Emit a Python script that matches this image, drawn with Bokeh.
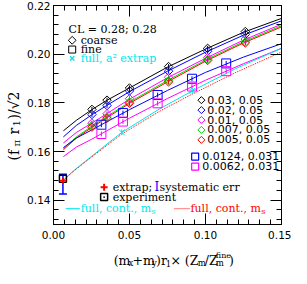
import numpy as np
from bokeh.plotting import figure
from bokeh.layouts import row, column
from bokeh.models import Range1d, FixedTicker, LinearAxis, Label, CustomJSTickFormatter
from bokeh.embed import file_html
from bokeh.resources import INLINE

# ---------------- data ----------------
x_coarse = [0.0253, 0.0352, 0.0500, 0.0757, 0.1014, 0.1262]
y_c003 = [0.1773, 0.1811, 0.1861, 0.1949, 0.2024, 0.2093]
y_c002 = [0.1752, 0.1789, 0.1849, 0.1930, 0.2012, 0.2081]
y_c001 = [0.1717, 0.1755, 0.1817, 0.1905, 0.1986, 0.2062]
y_c0007 = [0.1707, 0.1742, 0.1803, 0.1891, 0.1978, 0.2050]
y_c0005 = [0.1700, 0.1736, 0.1798, 0.1886, 0.1974, 0.2046]
err_coarse = [0.0010, 0.0010, 0.0010, 0.0010, 0.0010, 0.0010]

x_fine = [0.0315, 0.0457, 0.0685, 0.0911, 0.1136]
y_f00124 = [0.1710, 0.1758, 0.1832, 0.1899, 0.1962]
y_f00062 = [0.1672, 0.1723, 0.1798, 0.1867, 0.1930]
err_fine = [0.0010, 0.0010, 0.0010, 0.0010, 0.0010]

x_a2 = [0.0449, 0.0913]
y_a2 = [0.1679, 0.1849]
err_a2 = [0.0012, 0.0012]

x_fit = [0.0065, 0.015, 0.025, 0.035, 0.05, 0.075, 0.10, 0.125, 0.15]
fit_c003 = [0.1685, 0.1728, 0.1771, 0.1810, 0.1861, 0.1947, 0.2021, 0.2090, 0.2147]
fit_c002 = [0.1660, 0.1707, 0.1750, 0.1789, 0.1846, 0.1930, 0.2008, 0.2078, 0.2137]
fit_c001 = [0.1635, 0.1678, 0.1716, 0.1755, 0.1815, 0.1903, 0.1983, 0.2058, 0.2123]
fit_c0007 = [0.1612, 0.1660, 0.1703, 0.1743, 0.1803, 0.1892, 0.1976, 0.2051, 0.2117]
fit_c0005 = [0.1607, 0.1655, 0.1698, 0.1738, 0.1798, 0.1886, 0.1971, 0.2046, 0.2112]
fit_f00124 = [0.1616, 0.1655, 0.1688, 0.1722, 0.1772, 0.1851, 0.1925, 0.1988, 0.2043]
fit_f00062 = [0.1579, 0.1618, 0.1650, 0.1685, 0.1737, 0.1818, 0.1893, 0.1961, 0.2024]

x_cont = [0.0062, 0.013, 0.025, 0.045, 0.07, 0.0913, 0.12, 0.15]
cont_ms_prime = [0.1480, 0.1520, 0.1580, 0.1679, 0.1776, 0.1849, 0.1941, 0.2024]
cont_ms = [0.1480, 0.1518, 0.1577, 0.1672, 0.1766, 0.1836, 0.1925, 0.2009]

x_phys = [0.0062]
y_extrap = [0.1481]
err_extrap = [0.0010]
sys_lo = [0.1425]
sys_hi = [0.1506]
y_expt = [0.1488]

coarse_labels = ["0.03, 0.05", "0.02, 0.05", "0.01, 0.05", "0.007, 0.05", "0.005, 0.05"]
fine_labels = ["0.0124, 0.031", "0.0062, 0.031"]
x_ticks = [0.0, 0.05, 0.10, 0.15]
y_ticks = [0.14, 0.16, 0.18, 0.20, 0.22]

# ---------------- styling ----------------
BLACK, BLUE, MAG, GREEN, RED, CYAN = "#000000", "#0000ff", "#ff00ff", "#00dd00", "#ff0000", "#00e5ee"
SERIF = "DejaVu Serif"
SANS = "DejaVu Sans"

YL_W = 24          # width of the y-label strip
XL_H = 24          # height of the x-label strip
MAIN_W, MAIN_H = 291 - YL_W, 244
BORDER_B = 20

p = figure(width=MAIN_W, height=MAIN_H, output_backend="svg", toolbar_location=None, title=None,
           x_range=Range1d(0, 0.15), y_range=Range1d(0.13, 0.22),
           min_border_left=27, min_border_right=10, min_border_top=5, min_border_bottom=BORDER_B,
           background_fill_color="white", border_fill_color="white")
p.xgrid.visible = False
p.ygrid.visible = False
p.outline_line_color = "black"

x_minor = list(np.arange(0, 0.1501, 0.05 / 7))
y_minor = list(np.arange(0.132, 0.2201, 0.004))

def style_axis(ax, ticks, minor, show):
    ax.ticker = FixedTicker(ticks=ticks, minor_ticks=minor)
    ax.major_tick_in = 11
    ax.major_tick_out = 0
    ax.minor_tick_in = 5
    ax.minor_tick_out = 0
    ax.axis_line_color = "black"
    ax.major_tick_line_color = "black"
    ax.minor_tick_line_color = "black"
    if show:
        ax.major_label_text_font = SANS
        ax.major_label_text_font_size = "10.5px"
        ax.major_label_text_color = "black"
        ax.formatter = CustomJSTickFormatter(code="return tick.toFixed(2);")
    else:
        ax.formatter = CustomJSTickFormatter(code="return '';")
        ax.major_label_standoff = 0

bottom = p.below[0]
left = p.left[0]
style_axis(bottom, x_ticks, x_minor, True)
bottom.major_label_standoff = 6
style_axis(left, y_ticks, y_minor, True)
left.major_label_standoff = 3
top = LinearAxis()
style_axis(top, x_ticks, x_minor, False)
p.add_layout(top, "above")
right = LinearAxis()
style_axis(right, y_ticks, y_minor, False)
p.add_layout(right, "right")

# ---------------- curves ----------------
for ys, c in [(fit_c003, BLACK), (fit_c002, BLUE), (fit_c001, MAG), (fit_c0007, GREEN), (fit_c0005, RED),
              (fit_f00124, BLUE), (fit_f00062, MAG)]:
    p.line(x_fit, ys, line_color=c, line_width=1)
p.line(x_cont, cont_ms_prime, line_color=CYAN, line_width=1)
p.line(x_cont, cont_ms, line_color=RED, line_width=1, line_dash="1 1")

# ---------------- points ----------------
def errbars(xs, ys, es, c):
    lo = [y - e for y, e in zip(ys, es)]
    hi = [y + e for y, e in zip(ys, es)]
    p.segment(xs, lo, xs, hi, line_color=c, line_width=1)

for ys, c in [(y_c003, BLACK), (y_c002, BLUE), (y_c001, MAG), (y_c0007, GREEN), (y_c0005, RED)]:
    errbars(x_coarse, ys, err_coarse, c)
    p.scatter(x_coarse, ys, marker="square", angle=np.pi / 4, size=6, fill_color=None, line_color=c, line_width=1)
for ys, c in [(y_f00124, BLUE), (y_f00062, MAG)]:
    errbars(x_fine, ys, err_fine, c)
    p.scatter(x_fine, ys, marker="square", size=9, fill_color=None, line_color=c, line_width=1)
errbars(x_a2, y_a2, err_a2, CYAN)
p.scatter(x_a2, y_a2, marker="x", size=8, line_color=CYAN, line_width=1)

p.segment(x_phys, sys_lo, x_phys, sys_hi, line_color=BLUE, line_width=1.5)
p.scatter(x_phys, sys_lo, marker="dash", size=8, line_color=BLUE, line_width=1.5)
p.scatter(x_phys, sys_hi, marker="dash", size=8, line_color=BLUE, line_width=1.5)
p.scatter(x_phys, y_expt, marker="square", size=7, fill_color=None, line_color=BLACK, line_width=1.5)
errbars(x_phys, y_extrap, err_extrap, RED)
p.scatter(x_phys, y_extrap, marker="cross", size=7, line_color=RED, line_width=1.5)

# ---------------- text helpers ----------------
W = {' ': 0.318, '(': 0.390, ')': 0.390, 'm': 0.948, 'x': 0.564, 'y': 0.565, '+': 0.838, 'r': 0.478,
     '1': 0.636, '×': 0.838, 'Z': 0.667, '/': 0.337, 'f': 0.370, 'i': 0.320, 'n': 0.640, 'e': 0.592,
     'u': 0.640, 'l': 0.320, ',': 0.318, '.': 0.318, 'c': 0.560, 'o': 0.602, 't': 0.402, 's': 0.513}

def tw(s, size):
    return sum(W.get(ch, 0.6) for ch in s) * size

def lab(fig, text, x, y, size=11, color="black", units="data", angle=0, xo=0, yo=0,
        baseline="middle", font=SERIF):
    fig.add_layout(Label(text=text, x=x, y=y, x_units=units, y_units=units, angle=angle,
                         x_offset=xo, y_offset=yo, text_font=font, text_font_size=f"{size}px",
                         text_color=color, text_baseline=baseline, text_align="left"))

# ---------------- legends ----------------
lab(p, "CL = 0.28; 0.28", 0.0099, 0.2102)
p.scatter([0.0123], [0.2057], marker="square", angle=np.pi / 4, size=5.5, fill_color=None, line_color=BLACK)
lab(p, "coarse", 0.0179, 0.2057)
p.scatter([0.0123], [0.2019], marker="square", size=7, fill_color=None, line_color=BLACK)
lab(p, "fine", 0.0179, 0.2019)
p.scatter([0.0123], [0.1983], marker="x", size=6, line_color=CYAN, line_width=1.5)
lab(p, "full, a² extrap", 0.0179, 0.1983, color=CYAN)

for i, (t, c) in enumerate(zip(coarse_labels, [BLACK, BLUE, MAG, GREEN, RED])):
    yy = 0.1811 - i * 0.00408
    p.scatter([0.0973], [yy], marker="square", angle=np.pi / 4, size=5, fill_color=None, line_color=c)
    lab(p, t, 0.1012, yy, font=SANS)
for i, (t, c) in enumerate(zip(fine_labels, [BLUE, MAG])):
    yy = 0.1579 - i * 0.0041
    p.scatter([0.0932], [yy], marker="square", size=7, fill_color=None, line_color=c, line_width=1.2)
    lab(p, t, 0.0978, yy, font=SANS)

p.scatter([0.0333], [0.1453], marker="cross", size=7, line_color=RED, line_width=2)
lab(p, "extrap;", 0.0389, 0.1453)
lab(p, "I", 0.0665, 0.1455, size=12, color=BLUE)
lab(p, "systematic err", 0.0698, 0.1453)
p.scatter([0.0333], [0.1413], marker="square_dot", size=7, fill_color=None, line_color=BLACK, line_width=1.5)
lab(p, "experiment", 0.0389, 0.1413)
p.segment([0.0080], [0.1365], [0.0173], [0.1365], line_color=CYAN, line_width=1)
main = "full, cont., m"
lab(p, main, 0.0179, 0.1365, color=CYAN)
lab(p, "s", 0.0179, 0.1365, size=8, color=CYAN, xo=tw(main, 11) + 0.5, yo=-3)
lab(p, "′", 0.0179, 0.1365, size=8, color=CYAN, xo=tw(main, 11) + 1.5, yo=4)
p.segment([0.0796], [0.1365], [0.0895], [0.1365], line_color=RED, line_width=1, line_dash="1 1")
lab(p, main, 0.0901, 0.1365, color=RED)
lab(p, "s", 0.0901, 0.1365, size=8, color=RED, xo=tw(main, 11) + 0.5, yo=-3)

# ---------------- label strips ----------------
def strip(w, h):
    f = figure(width=w, height=h, output_backend="svg", toolbar_location=None, title=None,
               x_range=Range1d(0, w), y_range=Range1d(0, h), x_axis_type=None, y_axis_type=None,
               min_border=0, background_fill_color="white", border_fill_color="white")
    f.outline_line_color = None
    f.xgrid.visible = False
    f.ygrid.visible = False
    return f

# x-axis label
xf = strip(MAIN_W, XL_H)
MS, SS = 12.5, 8.5
pieces = [("(m", 0), ("x", -1), ("+m", 0), ("y", -1), (")r", 0), ("1", -1), (" × (Z", 0), ("m", -1),
          ("/Z", 0), ("m|fine", 2), (")", 0)]
cx = 94.5 - YL_W
for t, kind in pieces:
    if kind == 0:
        lab(xf, t, cx, 8, size=MS, baseline="alphabetic")
        cx += tw(t, MS)
    elif kind == -1:
        lab(xf, t, cx + 0.5, 5.5, size=SS, baseline="alphabetic")
        cx += tw(t, SS) + 0.5
    else:
        sub, sup = t.split("|")
        lab(xf, sub, cx + 0.5, 5.5, size=SS, baseline="alphabetic")
        lab(xf, sup, cx + 0.5, 13, size=8, baseline="alphabetic")
        cx += max(tw(sub, SS), tw(sup, 8)) + 0.5

# y-axis label (rotated, reads bottom to top)
yf = strip(YL_W, MAIN_H + XL_H)
A = np.pi / 2
OFF = XL_H + BORDER_B   # frame bottom of the main plot, measured from the strip bottom
lab(yf, "(f", 13, OFF + 64, size=14, angle=A, baseline="alphabetic")
lab(yf, "π", 16, OFF + 78, size=10, angle=A, baseline="alphabetic")
lab(yf, "r", 13, OFF + 90, size=14, angle=A, baseline="alphabetic")
lab(yf, "1", 16, OFF + 98, size=10, angle=A, baseline="alphabetic")
lab(yf, ")/√2", 13, OFF + 105, size=14, angle=A, baseline="alphabetic")

layout = row(yf, column(p, xf, spacing=0), spacing=0)
open("out.html", "w").write(file_html(layout, INLINE))
